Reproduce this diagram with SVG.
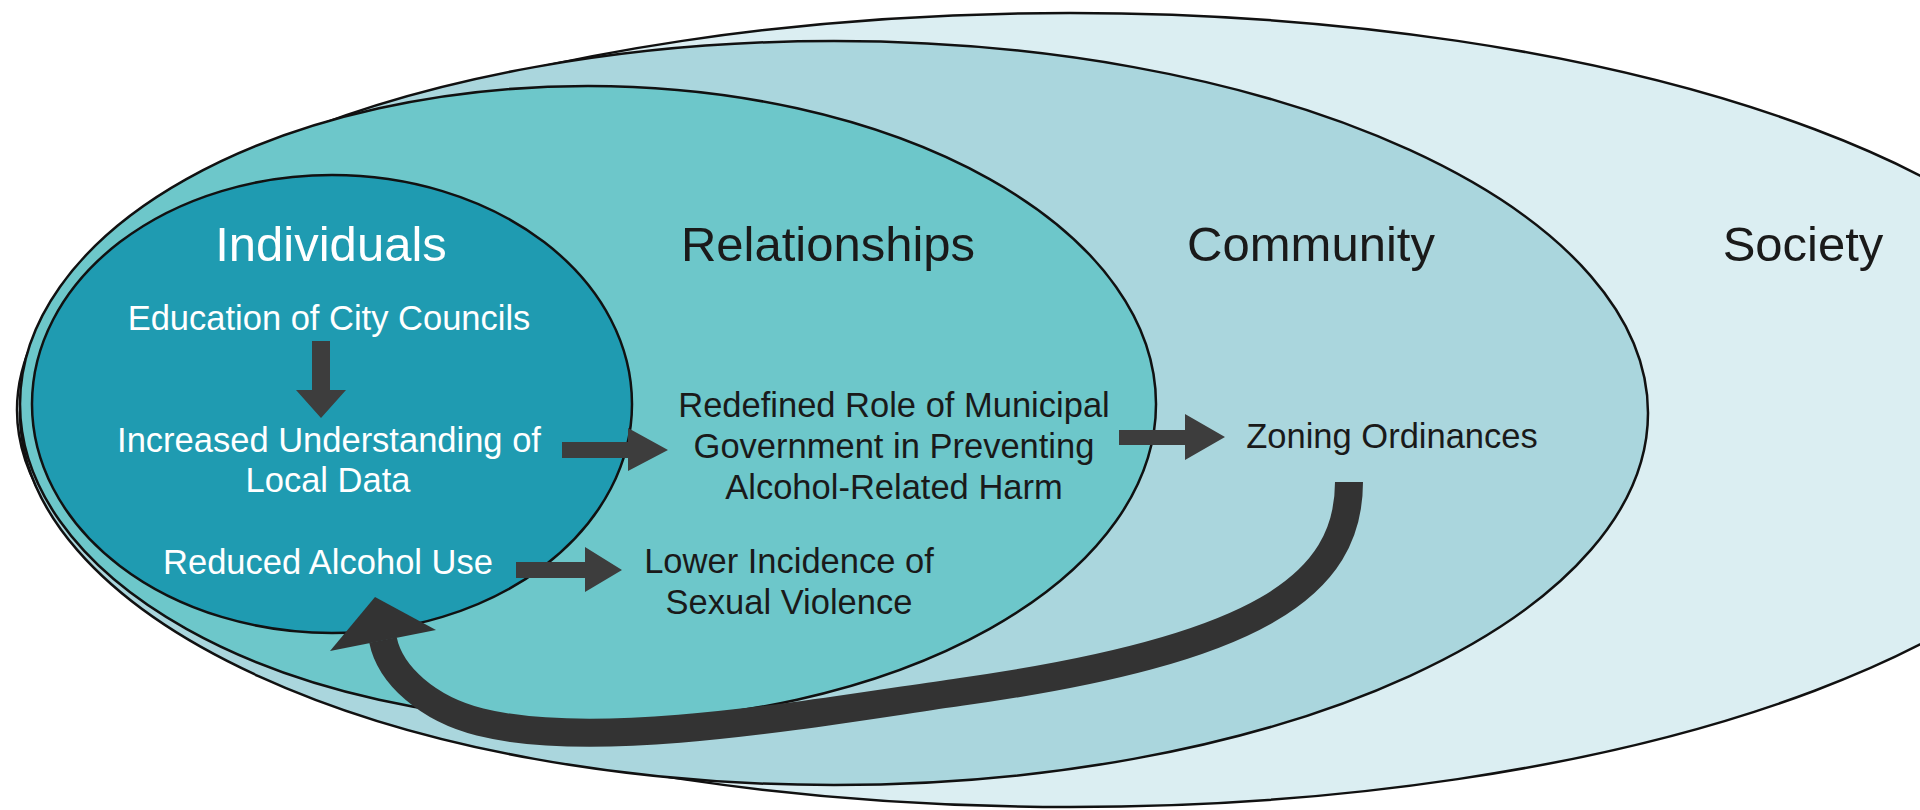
<svg xmlns="http://www.w3.org/2000/svg" width="1920" height="810" viewBox="0 0 1920 810">
<defs>
<style>
.lvl{stroke:#111;stroke-width:2.5}
.head{font-family:"Liberation Sans",Arial,sans-serif;font-size:49px;text-anchor:middle}
.txt{font-family:"Liberation Sans",Arial,sans-serif;font-size:34.5px;text-anchor:middle}
.w{fill:#ffffff}
.k{fill:#1a1a1a}
.arr{fill:#3d3d3d}
</style>
</defs>
<rect width="1920" height="810" fill="#ffffff"/>
<g id="society">
<ellipse class="lvl" fill="#dbeef2" cx="1070" cy="410" rx="1053" ry="397"/>
<text class="head k" x="1803" y="261">Society</text>
</g>
<g id="community">
<ellipse class="lvl" fill="#aad6dd" cx="834" cy="413" rx="814" ry="372"/>
<text class="head k" x="1311" y="261">Community</text>
</g>
<g id="relationships">
<ellipse class="lvl" fill="#6dc7ca" cx="588" cy="404" rx="568" ry="318"/>
<text class="head k" x="828" y="261">Relationships</text>
</g>
<g id="individuals">
<ellipse class="lvl" fill="#1f9bb1" cx="332" cy="404" rx="300" ry="229"/>
<text class="head w" x="331" y="261">Individuals</text>
</g>
<g id="education">
<text class="txt w" x="329" y="330">Education of City Councils</text>
</g>
<g id="understanding">
<text class="txt w" x="329" y="452">Increased Understanding of</text>
<text class="txt w" x="328" y="492">Local Data</text>
</g>
<g id="reduced-alcohol">
<text class="txt w" x="328" y="574">Reduced Alcohol Use</text>
</g>
<g id="redefined-role">
<text class="txt k" x="894" y="417">Redefined Role of Municipal</text>
<text class="txt k" x="894" y="458">Government in Preventing</text>
<text class="txt k" x="894" y="499">Alcohol-Related Harm</text>
</g>
<g id="zoning">
<text class="txt k" x="1392" y="448">Zoning Ordinances</text>
</g>
<g id="lower-incidence">
<text class="txt k" x="789" y="573">Lower Incidence of</text>
<text class="txt k" x="789" y="614">Sexual Violence</text>
</g>
<g id="connectors">
<path class="arr" d="M312,341 H330 V390 H346 L321,418 L296,390 H312 Z"/>
<path class="arr" d="M562,442 H628 V428 L668,450 L628,471 V458 H562 Z"/>
<path class="arr" d="M1119,430 H1185 V414 L1225,437 L1185,460 V445 H1119 Z"/>
<path class="arr" d="M516,562 H585 V547 L622,570 L585,592 V578 H516 Z"/>
<path fill="none" stroke="#333333" stroke-width="28" d="M1349,482 C1349,585 1260,650 960,692 C820,712 600,752 480,722 C428,709 390,675 383,640"/>
<polygon fill="#333333" points="375,597 436,630 330,651"/>
</g>
</svg>
